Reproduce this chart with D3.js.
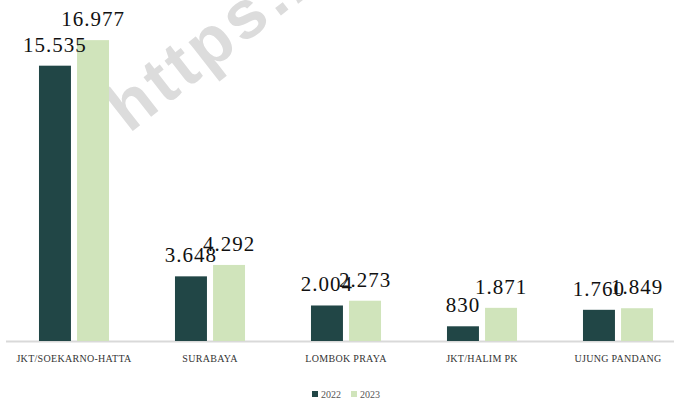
<!DOCTYPE html>
<html>
<head>
<meta charset="utf-8">
<script src="https://cdn.jsdelivr.net/npm/d3@7"></script>
<style>
  body { margin: 0; background: #fff; }
  svg { display: block; }
</style>
</head>
<body>
<svg id="chart" width="674" height="400"></svg>
<script>
// data
const categories = ["JKT/SOEKARNO-HATTA", "SURABAYA", "LOMBOK PRAYA", "JKT/HALIM PK", "UJUNG PANDANG"];
const seriesNames = ["2022", "2023"];
const values2022 = [15535, 3648, 2004, 830, 1760];
const values2023 = [16977, 4292, 2273, 1871, 1849];
const colors = ["#214646", "#d0e4bb"];

const width = 674, height = 400;
const svg = d3.select("#chart");

// titik sebagai pemisah ribuan
const fmt = d3.formatLocale({ decimal: ",", thousands: ".", grouping: [3], currency: ["", ""] }).format(",d");

const x = d3.scaleBand()
    .domain(categories)
    .range([6, 686])
    .paddingInner(0.485)
    .paddingOuter(0.2425);

const xSub = d3.scaleBand()
    .domain(seriesNames)
    .range([0, x.bandwidth()])
    .paddingInner(0.16);

const y = d3.scaleLinear()
    .domain([0, 18000])
    .range([341, 22]);

const rows = categories.map((c, i) => ({
    cat: c,
    vals: [
        { key: seriesNames[0], v: values2022[i] },
        { key: seriesNames[1], v: values2023[i] }
    ]
}));

// watermark
svg.append("text")
    .attr("transform", "translate(129,134) rotate(-38)")
    .attr("font-family", "Liberation Sans, Arial, sans-serif")
    .attr("font-weight", "bold")
    .attr("font-size", 68)
    .attr("letter-spacing", 4)
    .attr("fill", "#dcdcdc")
    .text("https://www");

// axis line
svg.append("line")
    .attr("x1", 6).attr("x2", 674)
    .attr("y1", y(0) + 0.5).attr("y2", y(0) + 0.5)
    .attr("stroke", "#d9d9d9")
    .attr("stroke-width", 2);

const group = svg.selectAll("g.cat")
    .data(rows)
    .join("g")
    .attr("class", "cat")
    .attr("transform", d => `translate(${x(d.cat)},0)`);

group.selectAll("rect")
    .data(d => d.vals)
    .join("rect")
    .attr("x", d => xSub(d.key))
    .attr("y", d => y(d.v))
    .attr("width", xSub.bandwidth())
    .attr("height", d => y(0) - y(d.v))
    .attr("fill", (d, i) => colors[i]);

group.selectAll("text.val")
    .data(d => d.vals)
    .join("text")
    .attr("class", "val")
    .attr("x", d => xSub(d.key) + xSub.bandwidth() / 2)
    .attr("y", d => y(d.v) - 14)
    .attr("text-anchor", "middle")
    .attr("font-family", "Liberation Serif, serif")
    .attr("font-size", 21)
    .attr("letter-spacing", 1)
    .attr("fill", "#111")
    .text(d => fmt(d.v));

// category labels
svg.selectAll("text.cat")
    .data(categories)
    .join("text")
    .attr("class", "cat")
    .attr("x", d => x(d) + x.bandwidth() / 2)
    .attr("y", 362)
    .attr("text-anchor", "middle")
    .attr("font-family", "Liberation Serif, serif")
    .attr("font-size", 10)
    .attr("letter-spacing", 0.3)
    .attr("fill", "#333")
    .text(d => d);

// legend
const legend = svg.append("g");
const legendX = [312, 351];
seriesNames.forEach((s, i) => {
    legend.append("rect")
        .attr("x", legendX[i]).attr("y", 391)
        .attr("width", 6).attr("height", 6)
        .attr("fill", colors[i]);
    legend.append("text")
        .attr("x", legendX[i] + 9).attr("y", 398)
        .attr("font-family", "Liberation Serif, serif")
        .attr("font-size", 10)
        .attr("fill", "#555")
        .text(s);
});
</script>
</body>
</html>
